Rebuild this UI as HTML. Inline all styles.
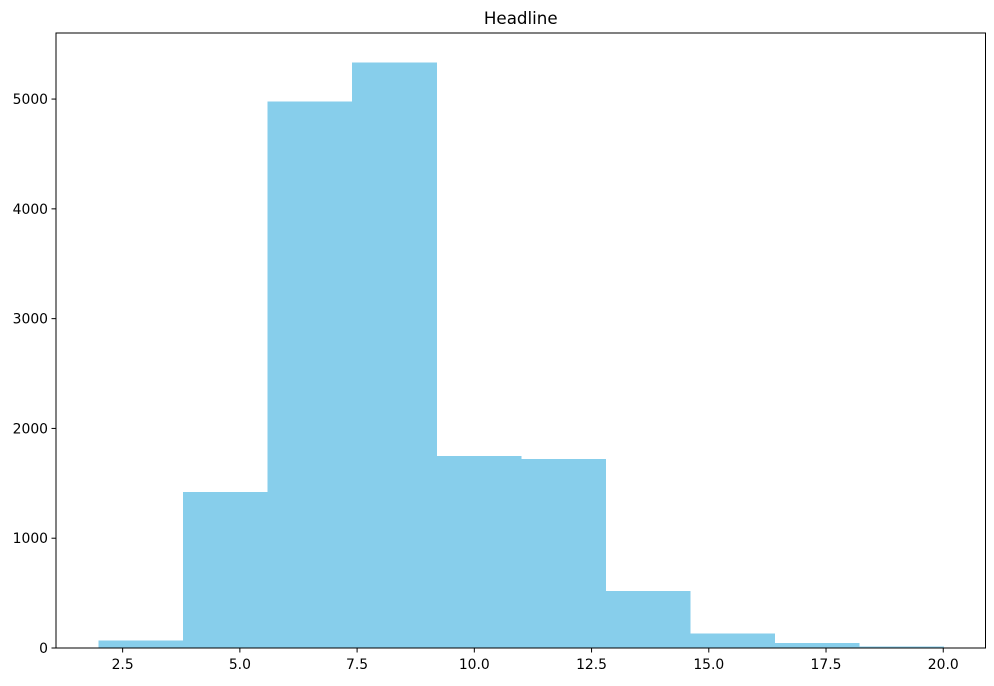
<!DOCTYPE html>
<html><head><meta charset="utf-8"><style>
body{margin:0;background:#fff;font-family:"DejaVu Sans","Liberation Sans",sans-serif;}
</style></head><body>
<svg id="chart" width="994" height="682" xmlns="http://www.w3.org/2000/svg" style="font-family:'DejaVu Sans','Liberation Sans',sans-serif">
</svg>
<script>
const binEdges=[1.98,3.782,5.584,7.386,9.188,10.99,12.792,14.594,16.396,18.198,20.0];
const counts=[70,1420,4980,5335,1750,1720,520,130,45,12];
const xTicks=[2.5,5.0,7.5,10.0,12.5,15.0,17.5,20.0];
const yTicks=[0,1000,2000,3000,4000,5000];
const titleText="Headline";

const svg=document.getElementById('chart');
const NS="http://www.w3.org/2000/svg";
const L=56,R=985.5,T=33,B=648;
const xmin=binEdges[0]-(binEdges[binEdges.length-1]-binEdges[0])*0.05;
const xmax=binEdges[binEdges.length-1]+(binEdges[binEdges.length-1]-binEdges[0])*0.05;
const ymax=Math.max(...counts)*1.05;
const xs=v=>L+(v-xmin)/(xmax-xmin)*(R-L);
const ys=v=>B-v/ymax*(B-T);
function mk(tag,attrs){const e=document.createElementNS(NS,tag);for(const k in attrs)e.setAttribute(k,attrs[k]);svg.appendChild(e);return e;}

counts.forEach((c,i)=>{
  const x0=xs(binEdges[i]),x1=xs(binEdges[i+1]);
  const r=mk('rect',{x:x0,y:ys(c),width:x1-x0+0.6,height:B-ys(c),fill:'#87ceeb','shape-rendering':'crispEdges'});
  
  
});
const frame=mk('rect',{x:L,y:T,width:R-L,height:B-T,fill:'none',stroke:'#000','stroke-width':1});



xTicks.forEach(v=>{
  const x=xs(v);
  const t=mk('line',{x1:x,x2:x,y1:B,y2:B+4.5,stroke:'#000','stroke-width':1});
  
  
  const l=mk('text',{x:x,y:B+21,'text-anchor':'middle','font-size':13.9,fill:'#000'});
  l.textContent=v.toFixed(1);
  
  
});
yTicks.forEach(v=>{
  const y=ys(v);
  const t=mk('line',{x1:L-4.5,x2:L,y1:y,y2:y,stroke:'#000','stroke-width':1});
  
  
  const l=mk('text',{x:L-8,y:y+5,'text-anchor':'end','font-size':13.9,fill:'#000'});
  l.textContent=String(v);
  
  
});
const tt=mk('text',{x:(L+R)/2,y:T-9,'text-anchor':'middle','font-size':16.7,fill:'#000'});
tt.textContent=titleText;


</script>
</body></html>
